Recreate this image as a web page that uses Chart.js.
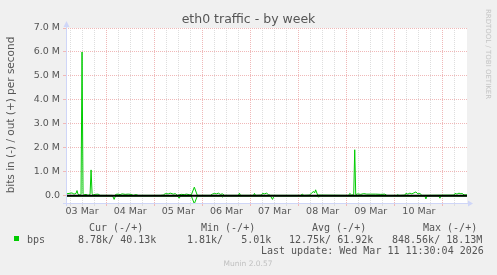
<!DOCTYPE html>
<html>
<head>
<meta charset="utf-8">
<script src="https://cdn.jsdelivr.net/npm/chart.js@4.4.1/dist/chart.umd.min.js"></script>
<style>
  html, body { margin: 0; padding: 0; background: #f0f0f0; }
  canvas { display: block; }
</style>
</head>
<body>
<canvas id="c" width="497" height="275"></canvas>
<script>
// x values are hours since 03 Mar 00:00, y values in Mbit/s
const X_MIN = 4, X_MAX = 204;
const dayLabels = ["03 Mar", "04 Mar", "05 Mar", "06 Mar", "07 Mar", "08 Mar", "09 Mar", "10 Mar"];
const yTickValues = [0, 0.5, 1, 1.5, 2, 2.5, 3, 3.5, 4, 4.5, 5, 5.5, 6, 6.5, 7];

const outHours = [4, 5.5, 7, 8, 9, 9.5, 10, 11, 11.5, 12, 12.5, 13, 14, 15, 16, 16.5, 17, 17.5, 18.5, 20, 21,
  27, 28, 29, 30, 31, 32, 33.5, 35, 36.5, 37.5, 39, 40, 51, 52.5, 53.5, 55, 56, 57.5, 58.5, 59.5,
  61.5, 63, 64, 65.5, 66.5, 68, 69.5, 76, 77, 78, 79, 80, 81, 82, 83, 90, 90.5, 91, 97.5, 98, 98.5,
  101.5, 102, 103, 104, 105, 106, 121, 122, 122.5, 125.5, 126.5, 127.5, 128, 128.5, 129.5,
  145, 145.5, 146.5, 147.5, 148, 148.5, 149.5, 151, 152.5, 154, 156, 158.5, 161, 163, 164,
  169, 169.5, 170, 173, 173.5, 174.5, 175.5, 176.5, 177.5, 178.5, 179.5, 180.5, 181.5,
  197.5, 198, 199, 200, 201, 201.5, 202.5, 204];
const outMbps = [0.08, 0.1, 0.12, 0.07, 0.1, 0.22, 0.06, 0.03, 0.05, 6.0, 0.1, 0.04, 0.06, 0.02, 0.05, 1.08, 0.1, 0.03, 0.06, 0.07, 0.02,
  0.02, 0.0, 0.06, 0.07, 0.05, 0.08, 0.06, 0.07, 0.06, 0.02, 0.05, 0.02, 0.02, 0.03, 0.09, 0.08, 0.11, 0.07, 0.09, 0.02,
  0.06, 0.05, 0.07, 0.05, 0.04, 0.36, 0.02, 0.02, 0.07, 0.1, 0.08, 0.11, 0.06, 0.08, 0.02, 0.02, 0.11, 0.02, 0.02, 0.1, 0.02,
  0.03, 0.1, 0.08, 0.11, 0.05, 0.02, 0.02, 0.07, 0.02, 0.03, 0.12, 0.18, 0.12, 0.25, 0.03,
  0.02, 0.1, 0.03, 0.05, 1.92, 0.05, 0.08, 0.06, 0.09, 0.07, 0.07, 0.07, 0.06, 0.07, 0.02,
  0.02, 0.05, 0.02, 0.03, 0.1, 0.07, 0.11, 0.08, 0.12, 0.16, 0.08, 0.1, 0.02,
  0.03, 0.1, 0.07, 0.11, 0.08, 0.1, 0.04, 0.04];

const inHours = [4, 27, 27.5, 28, 28.5, 29, 59.5, 60.5, 61, 66.5, 68, 69.5, 81.5, 82, 82.5,
  106, 107, 107.5, 108, 129.5, 130, 130.5, 183, 183.5, 184, 190, 190.5, 191, 204];
const inMbps = [-0.01, -0.01, -0.05, -0.15, -0.04, -0.01, -0.01, -0.1, -0.01, -0.01, -0.33, -0.01, -0.01, -0.05, -0.01,
  -0.01, -0.15, -0.05, -0.01, -0.01, -0.06, -0.01, -0.01, -0.13, -0.01, -0.01, -0.1, -0.01, -0.01];

const legendHeaders = [["Cur (-/+)", 89], ["Min (-/+)", 201], ["Avg (-/+)", 312], ["Max (-/+)", 423]];
const legendValues = [["8.78k/ 40.13k", 78], ["1.81k/   5.01k", 187], ["12.75k/ 61.92k", 289], ["848.56k/ 18.13M", 392]];

const toPoints = (xs, ys) => xs.map((x, i) => ({ x: x, y: ys[i] }));

const FONT = "DejaVu Sans";
const MONO = "DejaVu Sans Mono";
const TXT = "#555555";
const AXIS = "#cfd6f8";
const MAJOR = "#f0b8b8";
const MINOR = "#dedede";

const munin = {
  id: "munin",
  beforeDraw(chart) {
    const c = chart.ctx, a = chart.chartArea;
    c.save();
    c.fillStyle = "#f0f0f0";
    c.fillRect(0, 0, chart.width, chart.height);
    c.fillStyle = "#ffffff";
    c.fillRect(a.left, a.top, a.right - a.left, a.bottom - a.top);
    c.restore();
  },
  afterDatasetsDraw(chart) {
    const c = chart.ctx, a = chart.chartArea;
    c.save();
    // axes with arrows
    c.strokeStyle = AXIS; c.fillStyle = AXIS; c.lineWidth = 1;
    c.beginPath();
    c.moveTo(a.left + 0.5, a.bottom + 3); c.lineTo(a.left + 0.5, a.top - 4);
    c.moveTo(a.left - 3, a.bottom + 0.5); c.lineTo(a.right + 2, a.bottom + 0.5);
    c.stroke();
    c.beginPath();
    c.moveTo(a.left + 0.5, a.top - 7); c.lineTo(a.left - 2.5, a.top - 1); c.lineTo(a.left + 3.5, a.top - 1);
    c.closePath(); c.fill();
    c.beginPath();
    c.moveTo(a.right + 6, a.bottom + 0.5); c.lineTo(a.right + 1, a.bottom - 2.5); c.lineTo(a.right + 1, a.bottom + 3.5);
    c.closePath(); c.fill();
    c.restore();
  },
  afterDraw(chart) {
    const c = chart.ctx;
    c.save();
    c.fillStyle = TXT;
    c.textBaseline = "middle";
    c.textAlign = "center";
    c.font = "12.5px '" + FONT + "'";
    c.fillText("eth0 traffic - by week", 248.5, 19.5);

    c.save();
    c.translate(11, 115);
    c.rotate(-Math.PI / 2);
    c.font = "10.5px '" + FONT + "'";
    c.fillText("bits in (-) / out (+) per second", 0, 0);
    c.restore();

    c.save();
    c.translate(487.5, 54);
    c.rotate(Math.PI / 2);
    c.fillStyle = "#c4c4c4";
    c.font = "7px '" + FONT + "'";
    c.fillText("RRDTOOL / TOBI OETIKER", 0, 0);
    c.restore();

    c.textAlign = "left";
    c.font = "10px '" + MONO + "'";
    legendHeaders.forEach(([t, x]) => c.fillText(t, x, 228));
    c.fillText("bps", 27, 240);
    legendValues.forEach(([t, x]) => c.fillText(t, x, 240));
    c.fillText("Last update: Wed Mar 11 11:30:04 2026", 261, 251.5);

    c.fillStyle = "#00cc00";
    c.fillRect(14, 236, 5, 5);

    c.textAlign = "center";
    c.fillStyle = "#c0c0c0";
    c.font = "7.5px '" + FONT + "'";
    c.fillText("Munin 2.0.57", 248, 264.5);
    c.restore();
  }
};

new Chart(document.getElementById("c"), {
  type: "line",
  data: {
    datasets: [
      { data: [{ x: X_MIN, y: 0 }, { x: X_MAX, y: 0 }], borderColor: "#000000", borderWidth: 2 },
      { data: toPoints(outHours, outMbps), borderColor: "#00cc00", borderWidth: 1 },
      { data: toPoints(inHours, inMbps), borderColor: "#00cc00", borderWidth: 1 }
    ]
  },
  options: {
    responsive: false,
    animation: false,
    events: [],
    layout: { padding: { left: 0, top: 28, right: 30, bottom: 52 } },
    elements: { point: { radius: 0 }, line: { tension: 0 } },
    plugins: { legend: { display: false }, tooltip: { enabled: false } },
    scales: {
      x: {
        type: "linear", min: X_MIN, max: X_MAX,
        afterBuildTicks: s => { const t = []; for (let h = 6; h <= X_MAX; h += 6) t.push({ value: h }); s.ticks = t; },
        afterFit: s => { s.height = 20; },
        ticks: {
          autoSkip: false, maxRotation: 0, padding: 0, color: TXT,
          font: { family: FONT, size: 9.5 },
          callback: v => (v % 24 === 12 ? dayLabels[(v - 12) / 24] : "")
        },
        grid: {
          color: ctx => (ctx.tick && ctx.tick.value % 24 === 0 ? MAJOR : MINOR),
          tickColor: ctx => (ctx.tick && ctx.tick.value % 24 === 0 ? MAJOR : MINOR),
          tickLength: 3
        },
        border: { display: false, dash: [1, 1] }
      },
      y: {
        min: -0.3, max: 7,
        afterBuildTicks: s => { s.ticks = yTickValues.map(v => ({ value: v })); },
        afterFit: s => { s.width = 66; },
        ticks: {
          padding: 3, color: TXT,
          font: { family: FONT, size: 9.5 },
          callback: v => (v % 1 !== 0 ? "" : v === 0 ? "0.0" : v.toFixed(1) + " M")
        },
        grid: {
          color: ctx => (ctx.tick && ctx.tick.value % 1 === 0 ? MAJOR : MINOR),
          tickColor: ctx => (ctx.tick && ctx.tick.value % 1 === 0 ? MAJOR : MINOR),
          tickLength: 3
        },
        border: { display: false, dash: [1, 1] }
      }
    }
  },
  plugins: [munin]
});
</script>
</body>
</html>
